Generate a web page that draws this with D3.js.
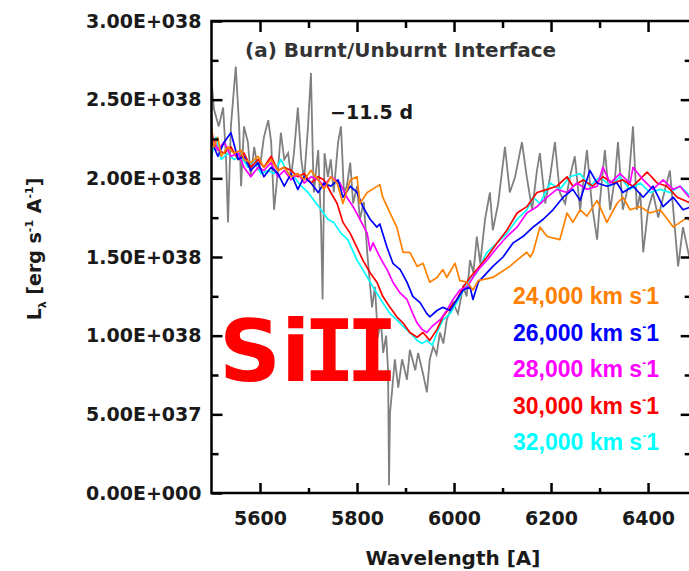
<!DOCTYPE html>
<html>
<head>
<meta charset="utf-8">
<script src="https://cdn.jsdelivr.net/npm/d3@7"></script>
<style>
  body { margin: 0; background: #fff; }
  svg { display: block; }
</style>
</head>
<body>
<div id="chart"></div>
<script>
/**********************/
/******* data         */
/**********************/

// luminosity values are in units of 1E+038 erg s^-1 A^-1
const UNIT = 1e38;

// observed spectrum, [wavelength, L]
const observed = [[5500,2.63],[5505,2.44],[5515,2.33],[5524,2.45],[5530,2.12],[5534,1.72],[5540,2.33],[5550,2.71],[5557,2.33],[5561,1.95],[5567,2.33],[5575,2.23],[5581,2.01],[5588,2.20],[5596,2.05],[5602,2.12],[5608,2.26],[5617,2.37],[5623,2.23],[5629,1.80],[5637,2.05],[5643,2.29],[5650,2.12],[5658,2.16],[5664,2.01],[5670,2.16],[5678,2.45],[5685,2.12],[5691,1.99],[5699,2.33],[5705,2.67],[5709,2.12],[5711,1.91],[5720,2.18],[5726,1.69],[5729,1.23],[5733,2.16],[5740,2.01],[5746,2.12],[5752,1.91],[5761,2.23],[5767,2.33],[5773,1.91],[5779,1.95],[5786,2.10],[5792,1.84],[5800,1.95],[5806,1.74],[5814,1.85],[5821,1.53],[5831,1.18],[5837,1.31],[5843,0.99],[5849,1.10],[5854,0.89],[5860,1.00],[5864,0.78],[5866,0.05],[5868,0.51],[5872,0.64],[5878,0.85],[5885,0.67],[5893,0.85],[5903,0.72],[5909,0.91],[5920,0.78],[5926,0.89],[5936,0.76],[5944,0.64],[5950,0.85],[5957,0.93],[5964,0.88],[5971,1.02],[5978,0.95],[5985,1.10],[5998,1.21],[6008,1.14],[6019,1.31],[6026,1.25],[6033,1.48],[6040,1.40],[6047,1.63],[6054,1.46],[6064,1.74],[6074,1.91],[6080,1.67],[6091,1.84],[6105,2.20],[6115,1.91],[6126,2.01],[6140,2.23],[6150,2.01],[6161,1.80],[6171,2.05],[6177,2.16],[6188,1.84],[6198,2.01],[6208,2.23],[6218,1.91],[6229,1.84],[6239,2.01],[6249,2.14],[6260,1.80],[6274,2.18],[6284,1.84],[6295,1.61],[6301,1.86],[6311,2.18],[6322,1.80],[6332,2.01],[6338,2.23],[6348,1.80],[6359,1.95],[6369,2.33],[6377,1.80],[6384,1.91],[6390,1.53],[6400,1.80],[6410,1.91],[6421,1.75],[6431,1.88],[6445,2.05],[6452,1.80],[6462,1.44],[6472,1.69],[6485,1.50]];

// model spectra, one per boundary velocity
const v24000 = [[5500,2.33],[5505,2.20],[5513,2.26],[5520,2.14],[5534,2.20],[5546,2.16],[5561,2.18],[5567,2.12],[5581,2.10],[5596,2.14],[5608,2.07],[5623,2.12],[5637,2.05],[5650,2.07],[5664,2.01],[5678,2.03],[5691,1.99],[5705,2.05],[5720,1.99],[5732,1.93],[5746,2.01],[5759,1.97],[5771,1.84],[5786,1.99],[5800,2.01],[5806,1.84],[5821,1.91],[5847,1.96],[5853,1.88],[5868,1.78],[5882,1.69],[5895,1.53],[5909,1.53],[5924,1.44],[5936,1.46],[5950,1.34],[5965,1.37],[5977,1.42],[5985,1.37],[6002,1.46],[6012,1.35],[6027,1.34],[6039,1.29],[6050,1.35],[6080,1.37],[6095,1.40],[6115,1.44],[6130,1.48],[6150,1.53],[6157,1.50],[6163,1.53],[6177,1.69],[6192,1.63],[6218,1.61],[6233,1.78],[6245,1.72],[6260,1.80],[6274,1.76],[6295,1.86],[6315,1.72],[6336,1.84],[6348,1.88],[6363,1.80],[6384,1.82],[6404,1.78],[6425,1.80],[6452,1.69],[6480,1.75],[6490,1.72]];
const v26000 = [[5500,2.24],[5513,2.14],[5526,2.23],[5540,2.29],[5555,2.12],[5567,2.14],[5581,2.05],[5596,2.10],[5608,2.01],[5623,2.07],[5637,2.03],[5650,1.95],[5664,2.03],[5678,1.93],[5691,2.01],[5705,1.97],[5720,1.91],[5732,1.97],[5746,1.95],[5761,1.99],[5771,1.88],[5786,1.95],[5800,1.91],[5812,1.82],[5827,1.74],[5841,1.69],[5847,1.71],[5862,1.56],[5874,1.46],[5889,1.42],[5903,1.34],[5915,1.25],[5930,1.21],[5944,1.14],[5950,1.12],[5965,1.16],[5977,1.18],[5992,1.16],[6006,1.23],[6019,1.29],[6033,1.31],[6039,1.23],[6050,1.34],[6080,1.44],[6101,1.50],[6122,1.59],[6142,1.63],[6163,1.69],[6184,1.74],[6204,1.80],[6225,1.88],[6245,1.93],[6260,1.86],[6280,2.05],[6295,1.97],[6315,1.95],[6336,1.97],[6348,1.91],[6369,1.95],[6390,1.88],[6410,1.95],[6431,1.82],[6452,1.88],[6472,1.80],[6490,1.82]];
const v28000 = [[5500,2.29],[5513,2.18],[5526,2.23],[5540,2.14],[5555,2.16],[5567,2.07],[5581,2.01],[5596,2.07],[5608,2.05],[5623,2.10],[5637,2.01],[5650,2.05],[5664,1.99],[5678,2.03],[5691,1.97],[5705,2.01],[5720,1.99],[5732,1.95],[5746,2.01],[5765,1.97],[5779,1.88],[5792,1.82],[5806,1.74],[5821,1.65],[5827,1.54],[5833,1.59],[5847,1.50],[5862,1.42],[5874,1.34],[5889,1.27],[5903,1.23],[5915,1.14],[5924,1.08],[5934,1.04],[5944,1.02],[5955,1.06],[5971,1.10],[5985,1.16],[5998,1.23],[6012,1.29],[6027,1.31],[6039,1.37],[6050,1.42],[6068,1.48],[6089,1.56],[6109,1.63],[6130,1.69],[6150,1.78],[6171,1.82],[6192,1.88],[6212,1.93],[6233,1.91],[6253,1.97],[6274,1.93],[6295,1.95],[6307,2.07],[6322,1.97],[6342,2.03],[6363,1.97],[6369,2.07],[6390,1.99],[6410,1.93],[6431,1.99],[6452,1.93],[6466,1.95],[6490,1.86]];
const v30000 = [[5500,2.26],[5513,2.18],[5526,2.16],[5540,2.20],[5555,2.12],[5567,2.16],[5581,2.07],[5596,2.12],[5608,2.07],[5623,2.14],[5637,2.05],[5650,2.07],[5664,2.05],[5678,2.01],[5691,2.03],[5705,1.97],[5720,2.01],[5732,1.99],[5746,1.91],[5759,1.84],[5771,1.72],[5786,1.65],[5800,1.56],[5812,1.48],[5827,1.40],[5841,1.34],[5853,1.25],[5868,1.18],[5882,1.12],[5895,1.08],[5909,1.02],[5924,0.99],[5936,1.02],[5950,0.97],[5965,1.04],[5977,1.12],[5992,1.18],[6006,1.23],[6019,1.31],[6033,1.37],[6047,1.42],[6068,1.50],[6089,1.59],[6109,1.67],[6130,1.78],[6150,1.82],[6171,1.91],[6192,1.93],[6212,1.95],[6233,2.01],[6245,1.95],[6266,1.99],[6286,1.95],[6307,2.01],[6328,1.97],[6348,1.99],[6369,1.95],[6398,2.04],[6419,1.97],[6439,1.95],[6460,1.88],[6490,1.84]];
const v32000 = [[5500,2.14],[5509,2.26],[5520,2.12],[5534,2.16],[5546,2.12],[5561,2.14],[5575,2.07],[5588,2.12],[5602,2.03],[5617,2.05],[5629,2.03],[5643,2.12],[5658,2.03],[5670,2.01],[5685,1.95],[5699,1.91],[5711,1.86],[5726,1.80],[5740,1.74],[5752,1.72],[5767,1.65],[5781,1.61],[5800,1.48],[5812,1.42],[5827,1.34],[5841,1.27],[5853,1.21],[5868,1.14],[5882,1.10],[5895,1.06],[5909,1.02],[5924,0.97],[5934,0.95],[5944,0.97],[5955,0.94],[5965,1.02],[5977,1.10],[5992,1.14],[6006,1.21],[6019,1.29],[6033,1.35],[6047,1.40],[6068,1.53],[6089,1.59],[6109,1.65],[6130,1.74],[6150,1.80],[6163,1.88],[6177,1.84],[6198,1.97],[6218,1.93],[6239,2.01],[6260,2.03],[6280,1.95],[6301,2.01],[6322,1.95],[6342,2.01],[6363,1.93],[6384,1.97],[6404,1.91],[6425,1.93],[6445,1.91],[6466,1.95],[6490,1.88]];

const velocities = ["24,000", "26,000", "28,000", "30,000", "32,000"];
const modelColors = ["#ff8000", "#0000ff", "#ff00ff", "#ff0000", "#00ffff"];
const models = [v24000, v26000, v28000, v30000, v32000];

const xMajor = [5600, 5800, 6000, 6200, 6400];
const xMinor = [5700, 5900, 6100, 6300];
const yMajor = [0, 0.5e38, 1.0e38, 1.5e38, 2.0e38, 2.5e38, 3.0e38];
const yMinor = [0.25e38, 0.75e38, 1.25e38, 1.75e38, 2.25e38, 2.75e38];

/**********************/
/******* d3           */
/**********************/

const width = 689, height = 571;
const plot = { left: 211.5, top: 21, bottom: 493, right: 691.7 };

const svg = d3.select("#chart")
    .append("svg")
    .attr("width", width)
    .attr("height", height);

const x = d3.scaleLinear().domain([5500, 6490]).range([plot.left, plot.right]);
const y = d3.scaleLinear().domain([0, 3e38]).range([plot.bottom, plot.top]);

// 3.00E+038 style labels
function sciLabel(v) {
    if (v === 0) return "0.00E+000";
    const e = Math.floor(Math.log10(v) + 1e-9);
    return (v / Math.pow(10, e)).toFixed(2) + "E+" + String(e).padStart(3, "0");
}

const line = d3.line()
    .x(d => x(d[0]))
    .y(d => y(d[1] * UNIT));

const lines = svg.append("g");

lines.append("path")
    .datum(observed)
    .attr("d", line)
    .attr("fill", "none")
    .attr("stroke", "#808080")
    .attr("stroke-width", 1.8);

// draw 32,000 first so that 24,000 sits on top
for (let i = models.length - 1; i >= 0; i--) {
    lines.append("path")
        .datum(models[i])
        .attr("d", line)
        .attr("fill", "none")
        .attr("stroke", modelColors[i])
        .attr("stroke-width", 1.7)
        .attr("stroke-linejoin", "round");
}

// axes, ticks pointing inward
const tickFont = "DejaVu Sans, Verdana, sans-serif";

function styleAxis(g) {
    g.select(".domain").remove();
    g.selectAll(".tick line").attr("stroke", "#000").attr("stroke-width", 2.5);
    g.selectAll(".tick text")
        .attr("fill", "#1a1a1a")
        .style("font-family", tickFont)
        .style("font-weight", "bold")
        .style("font-size", "19px");
}

svg.append("g")
    .attr("transform", `translate(0, ${plot.bottom})`)
    .call(d3.axisBottom(x).tickValues(xMajor).tickSize(-10).tickPadding(19).tickFormat(d3.format("d")))
    .call(styleAxis);
svg.append("g")
    .attr("transform", `translate(0, ${plot.bottom})`)
    .call(d3.axisBottom(x).tickValues(xMinor).tickSize(-5).tickFormat(""))
    .call(styleAxis);
svg.append("g")
    .attr("transform", `translate(0, ${plot.top})`)
    .call(d3.axisTop(x).tickValues(xMajor).tickSize(-11).tickFormat(""))
    .call(styleAxis);
svg.append("g")
    .attr("transform", `translate(0, ${plot.top})`)
    .call(d3.axisTop(x).tickValues(xMinor).tickSize(-7).tickFormat(""))
    .call(styleAxis);

svg.append("g")
    .attr("transform", `translate(${plot.left}, 0)`)
    .call(d3.axisLeft(y).tickValues(yMajor).tickSize(-11).tickPadding(10).tickFormat(sciLabel))
    .call(styleAxis);
svg.append("g")
    .attr("transform", `translate(${plot.left}, 0)`)
    .call(d3.axisLeft(y).tickValues(yMinor).tickSize(-7).tickFormat(""))
    .call(styleAxis);
svg.append("g")
    .attr("transform", `translate(${plot.right}, 0)`)
    .call(d3.axisRight(y).tickValues(yMajor.slice(1, -1)).tickSize(-11).tickFormat(""))
    .call(styleAxis);
svg.append("g")
    .attr("transform", `translate(${plot.right}, 0)`)
    .call(d3.axisRight(y).tickValues(yMinor).tickSize(-7).tickFormat(""))
    .call(styleAxis);

// frame
svg.append("rect")
    .attr("x", plot.left)
    .attr("y", plot.top)
    .attr("width", plot.right - plot.left)
    .attr("height", plot.bottom - plot.top)
    .attr("fill", "none")
    .attr("stroke", "#000")
    .attr("stroke-width", 2.5);

// axis titles
svg.append("text")
    .attr("x", 453)
    .attr("y", 565)
    .attr("text-anchor", "middle")
    .style("font-family", tickFont)
    .style("font-weight", "bold")
    .style("font-size", "20px")
    .attr("fill", "#1a1a1a")
    .text("Wavelength [A]");

const yTitle = svg.append("text")
    .attr("transform", "translate(41, 249) rotate(-90)")
    .attr("text-anchor", "middle")
    .style("font-family", tickFont)
    .style("font-weight", "bold")
    .style("font-size", "19px")
    .attr("fill", "#1a1a1a");
yTitle.append("tspan").text("L");
yTitle.append("tspan").attr("dy", 5).style("font-size", "11px").text("λ");
yTitle.append("tspan").attr("dy", -5).text(" [erg s");
yTitle.append("tspan").attr("dy", -8).style("font-size", "11px").text("-1");
yTitle.append("tspan").attr("dy", 8).text(" A");
yTitle.append("tspan").attr("dy", -8).style("font-size", "11px").text("-1");
yTitle.append("tspan").attr("dy", 8).text("]");

// annotations
svg.append("text")
    .attr("x", 245)
    .attr("y", 57)
    .style("font-family", tickFont)
    .style("font-weight", "bold")
    .style("font-size", "20px")
    .attr("fill", "#333")
    .text("(a) Burnt/Unburnt Interface");

svg.append("text")
    .attr("x", 330)
    .attr("y", 119)
    .style("font-family", tickFont)
    .style("font-weight", "bold")
    .style("font-size", "19px")
    .attr("fill", "#1a1a1a")
    .text("\u221211.5 d");

// big ion label; the capital I's carry slab serifs in the original
const ion = svg.append("text")
    .attr("x", 219)
    .attr("y", 381)
    .style("font-family", tickFont)
    .style("font-weight", "bold")
    .style("font-size", "86px")
    .attr("fill", "#ff0000");
ion.append("tspan").text("Si");
ion.append("tspan")
    .attr("dx", -7)
    .style("font-family", "DejaVu Sans Mono, monospace")
    .style("letter-spacing", "-9px")
    .text("II");

// velocity labels
const legend = svg.append("g")
    .selectAll("text")
    .data(velocities)
    .enter()
    .append("text")
    .attr("x", 513)
    .attr("y", (d, i) => 304 + i * 36.5)
    .attr("fill", (d, i) => modelColors[i])
    .style("font-family", "Liberation Sans, Arial, sans-serif")
    .style("font-weight", "bold")
    .style("font-size", "23px");
legend.append("tspan").text(d => d + " km s");
legend.append("tspan").attr("dy", -10).style("font-size", "12px").text("-");
legend.append("tspan").attr("dy", 10).text("1");
</script>
</body>
</html>
